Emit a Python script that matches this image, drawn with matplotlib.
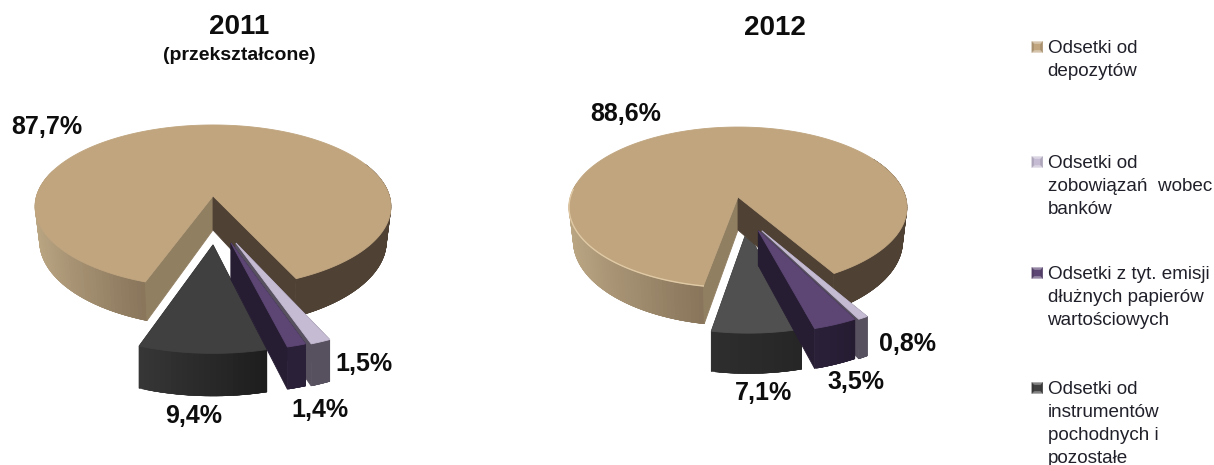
import numpy as np
import matplotlib
matplotlib.use("Agg")
import matplotlib.pyplot as plt
from matplotlib.patches import Polygon
from matplotlib.colors import to_rgb

plt.rcParams['font.family'] = ['Liberation Sans', 'DejaVu Sans']

# ---- data ----
series_names = ["Odsetki od\ndepozytów", "Odsetki od\nzobowiązań  wobec\nbanków",
                "Odsetki z tyt. emisji\ndłużnych papierów\nwartościowych",
                "Odsetki od\ninstrumentów\npochodnych i\npozostałe"]
values_2011 = [87.7, 1.5, 1.4, 9.4]
values_2012 = [88.6, 0.8, 3.5, 7.1]
title_2011 = "2011"
subtitle_2011 = "(przekształcone)"
title_2012 = "2012"
labels_2011 = ["87,7%", "1,5%", "1,4%", "9,4%"]
labels_2012 = ["88,6%", "0,8%", "3,5%", "7,1%"]

# ---- style ----
top_colors = ["#C0A57F", "#C5BBD3", "#5D4674", "#404040"]
top_colors_2012 = ["#C0A57F", "#C5BBD3", "#5D4674", "#505050"]
wall_colors = [None, ("#57505F", "#57505F"), ("#2A2038", "#2A2038"), ("#363636", "#1E1E1E")]
wall_colors_2012 = [None, ("#57505F", "#57505F"), ("#2A2038", "#261C32"), ("#2E2E2E", "#262626")]
radial_colors = [None, "#57505F", "#271D33", "#303030"]
main_cut_left = "#917F62"
main_cut_right = "#4F4134"
main_arc_dark = "#87745A"
main_arc_light = "#BDA885"

fig = plt.figure(figsize=(12.14, 4.65), dpi=100)
ax = fig.add_axes([0, 0, 1, 1])
ax.set_xlim(0, 1214)
ax.set_ylim(465, 0)
ax.axis("off")


class Pie3D:
    def __init__(self, cx, cy, rx, ry, k, depth):
        self.cx, self.cy, self.rx, self.ry, self.k, self.depth = cx, cy, rx, ry, k, depth

    def top(self, x, y):
        w = 1 + self.k * y
        return self.cx + self.rx * x / w, self.cy - self.ry * y / w

    def bottom(self, x, y, s=1.0):
        w = 1 + self.k * y
        X, Y = self.top(x, y)
        return self.cx + (X - self.cx) * s, Y + self.depth / w


def mix(c1, c2, t):
    a, b = np.array(to_rgb(c1)), np.array(to_rgb(c2))
    return tuple(a + (b - a) * t)


def poly(points, color, z, edge=None, lw=0.6):
    ax.add_patch(Polygon(points, closed=True, facecolor=color,
                         edgecolor=edge if edge else color, linewidth=lw, zorder=z))


def arc_xy(a0, a1, n=120):
    t = np.radians(np.linspace(a0, a1, n))
    return np.cos(t), np.sin(t)


def draw_slice(p, a_hi, a_lo, shift, top_c, wall_c, rad_c, z):
    sx, sy = shift
    xs, ys = arc_xy(a_lo, a_hi, 24)
    xs, ys = xs + sx, ys + sy
    for i in (0, -1):
        pts = [p.top(sx, sy), p.top(xs[i], ys[i]), p.bottom(xs[i], ys[i]), p.bottom(sx, sy)]
        poly(pts, rad_c, z)
    n = len(xs)
    for i in range(n - 1):
        j = min(i + 3, n - 1)
        top_edge = [p.top(xs[m], ys[m]) for m in range(i, j + 1)]
        bot_edge = [p.bottom(xs[m], ys[m]) for m in range(j, i - 1, -1)]
        poly(top_edge + bot_edge, mix(wall_c[0], wall_c[1], i / (n - 2)), z, lw=0.3)
    poly([p.top(sx, sy)] + [p.top(a, b) for a, b in zip(xs, ys)], top_c, z + 0.1)


def wall_band(p, angs, color_of, z, s):
    n = len(angs)
    xs, ys = np.cos(np.radians(angs)), np.sin(np.radians(angs))
    for i in range(n - 1):
        j = min(i + 3, n - 1)
        top_edge = [p.top(xs[m], ys[m]) for m in range(i, j + 1)]
        bot_edge = [p.bottom(xs[m], ys[m], s) for m in range(j, i - 1, -1)]
        poly(top_edge + bot_edge, color_of(xs[i]), z, lw=0.3)


def draw_main(p, a_start, a_end, z, rim=None):
    """Clockwise from a_start (front-left cut) around the back to a_end (front-right cut)."""
    s = 0.975
    ax_, ay_ = np.cos(np.radians(a_start)), np.sin(np.radians(a_start))
    bx_, by_ = np.cos(np.radians(a_end)), np.sin(np.radians(a_end))
    # white halo on the left cut only
    poly([p.top(0, 0), p.bottom(0, 0, s), p.bottom(ax_, ay_, s)], "white", z - 0.5, edge="white", lw=4)
    poly([p.top(0, 0), p.bottom(0, 0, s), (p.cx + 14, p.cy + p.depth + 8)], "white", z - 0.5, edge="white", lw=3)

    wall_band(p, np.linspace(a_start - 90, a_start, 70),
              lambda x: mix(main_arc_light, main_arc_dark, np.clip((x + 1.0) / (ax_ + 1.0), 0, 1)), z, s)
    wall_band(p, np.linspace(a_end, a_end + 90, 70), lambda x: main_cut_right, z, s)
    poly([p.top(0, 0), p.top(ax_, ay_), p.bottom(ax_, ay_, s), p.bottom(0, 0, s)], main_cut_left, z + 0.1)
    poly([p.top(0, 0), p.top(bx_, by_), p.bottom(bx_, by_, s), p.bottom(0, 0, s)], main_cut_right, z + 0.1)
    xs, ys = arc_xy(a_start, a_start - (a_start - a_end) % 360, 300)
    poly([p.top(0, 0)] + [p.top(a, b) for a, b in zip(xs, ys)], top_colors[0], z + 0.2)
    if rim:
        xs, ys = arc_xy(a_start, a_start - 85, 60)
        pts = np.array([p.top(a, b) for a, b in zip(xs, ys)])
        ax.plot(pts[:, 0], pts[:, 1], color=rim, lw=1.0, zorder=z + 0.3)


def draw_pie(values, p, a_start, shifts, tops, walls, rim=None):
    total = sum(values)
    spans = [v / total * 360 for v in values]
    a_end = a_start - spans[0]
    bounds = [a_end]
    for sp in spans[1:]:
        bounds.append(bounds[-1] - sp)
    # instruments slice sits behind the large slice; the two thin ones in front of it
    order_z = {3: 3, 1: 12, 2: 13}
    for i in range(1, len(values)):
        draw_slice(p, bounds[i - 1], bounds[i], shifts[i], tops[i], walls[i], radial_colors[i], order_z[i])
    draw_main(p, a_start, a_end % 360 - 360, 10, rim=rim)


pie_2011 = Pie3D(213, 196, 176.5, 80.2, 0.129, 34)
pie_2012 = Pie3D(738, 197, 167.6, 79.0, 0.129, 33)

draw_pie(values_2011, pie_2011, -109.7,
         [None, (0.121, -0.545), (0.095, -0.545), (0.0, -0.566)], top_colors, wall_colors)
draw_pie(values_2012, pie_2012, -100.4,
         [None, (0.135, -0.405), (0.115, -0.405), (0.05, -0.41)], top_colors_2012, wall_colors_2012,
         rim="#E0CAA6")

# ---- text ----
ax.text(239, 27, title_2011, fontsize=20, fontweight="bold", ha="center", va="center", color="#0d0d0d", zorder=20)
ax.text(239, 55, subtitle_2011, fontsize=14, fontweight="bold", ha="center", va="center", color="#0d0d0d", zorder=20)
ax.text(775, 28, title_2012, fontsize=20, fontweight="bold", ha="center", va="center", color="#0d0d0d", zorder=20)

label_pos_2011 = [(47, 127), (364, 364), (320, 410), (194, 416)]
label_pos_2012 = [(626, 114), (908, 344), (856, 382), (764, 393)]
for lab, pos in zip(labels_2011 + labels_2012, label_pos_2011 + label_pos_2012):
    ax.text(pos[0], pos[1], lab, fontsize=18, fontweight="bold", ha="center", va="center",
            color="#0d0d0d", zorder=20)

# ---- legend ----
legend_y = [47, 162, 273, 388]


def legend_marker(xc, yc, c):
    h = 5.5
    base = np.array(to_rgb(c))
    light = tuple(np.clip(base + (1 - base) * 0.35, 0, 1))
    dark = tuple(base * 0.88)
    corners = [(xc - h, yc - h), (xc + h, yc - h), (xc + h, yc + h), (xc - h, yc + h)]
    ctr = (xc, yc)
    poly([corners[0], corners[1], ctr], light, 20, lw=0.2)
    poly([corners[2], corners[3], ctr], light, 20, lw=0.2)
    poly([corners[1], corners[2], ctr], dark, 20, lw=0.2)
    poly([corners[3], corners[0], ctr], dark, 20, lw=0.2)
    i = 3.0
    poly([(xc - i, yc - i), (xc + i, yc - i), (xc + i, yc + i), (xc - i, yc + i)], c, 20.1, lw=0.2)


for name, y, c in zip(series_names, legend_y, top_colors):
    legend_marker(1037.3, y, c)
    ax.text(1047.5, y - 7, name, fontsize=13.6, ha="left", va="top", linespacing=1.46,
            color="#20202a", zorder=20)

fig.savefig("out.png", dpi=100)
